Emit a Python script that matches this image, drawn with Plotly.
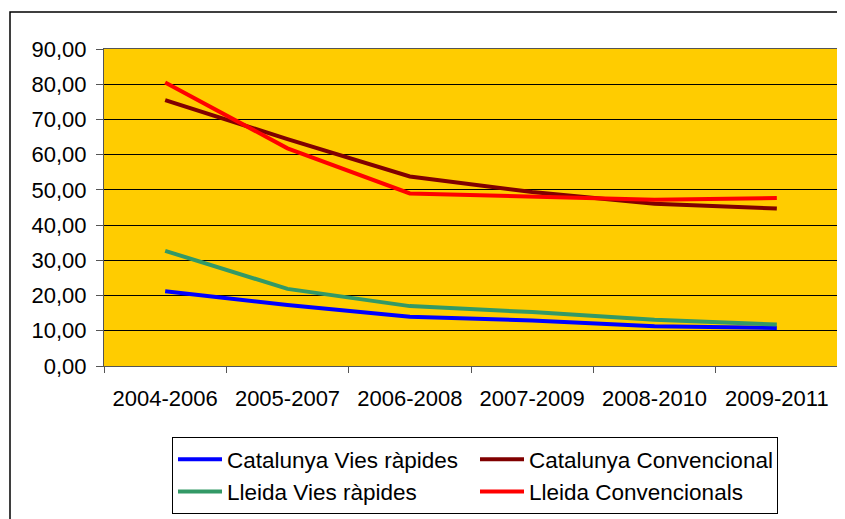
import plotly.graph_objects as go

categories = ["2004-2006", "2005-2007", "2006-2008", "2007-2009", "2008-2010", "2009-2011"]
cat_vies = [21.2, 17.3, 14.0, 12.9, 11.3, 10.8]
cat_conv = [75.5, 64.4, 53.8, 49.4, 46.1, 44.7]
lle_vies = [32.7, 21.9, 17.0, 15.3, 13.1, 11.8]
lle_conv = [80.5, 61.8, 49.0, 48.0, 47.2, 47.7]

series = [
    ("Catalunya Vies ràpides", cat_vies, "#0000FF"),
    ("Catalunya Convencional", cat_conv, "#800000"),
    ("Lleida Vies ràpides", lle_vies, "#339966"),
    ("Lleida Convencionals", lle_conv, "#FF0000"),
]

fig = go.Figure()
for name, vals, col in series:
    fig.add_trace(go.Scatter(x=categories, y=vals, name=name, mode="lines",
                             line=dict(color=col, width=4)))

OFF = 8  # page body margin
W, H = 845 - OFF, 519 - OFF
L, R, T, B = 104 - OFF, 7, 49 - OFF, 153
pw, ph = W - L - R, H - T - B

def px_x(x):
    return (x - OFF - L) / pw

def px_y(y):
    return (H - B - (y - OFF)) / ph

fig.update_layout(
    width=W, height=H,
    margin=dict(l=L, r=R, t=T, b=B, pad=0, autoexpand=False),
    paper_bgcolor="white",
    plot_bgcolor="#FFCC00",
    separators=",.",
    font=dict(family="Liberation Sans, Arial, sans-serif", size=22, color="black"),
    showlegend=True,
    legend=dict(orientation="h", x=px_x(172), y=px_y(437), xanchor="left", yanchor="top",
                bgcolor="white", bordercolor="black", borderwidth=1,
                entrywidth=243, entrywidthmode="pixels", itemwidth=44,
                font=dict(size=22.5), tracegroupgap=0),
    xaxis=dict(type="category", range=[-0.5, 5.5], showgrid=False, zeroline=False,
               showline=True, linecolor="#555555", linewidth=1, mirror=True,
               ticks="outside", ticklen=6, tickcolor="#555555", tickson="boundaries",
               ticklabelstandoff=13, fixedrange=True),
    yaxis=dict(range=[0, 90], dtick=10, tickformat=".2f", showgrid=True,
               gridcolor="black", gridwidth=1, zeroline=False,
               showline=True, linecolor="#555555", linewidth=1, mirror=True,
               ticks="outside", ticklen=7, tickcolor="#555555",
               ticklabelstandoff=5),
    shapes=[dict(type="rect", xref="paper", yref="paper",
                 x0=px_x(10), x1=px_x(900), y0=px_y(600), y1=px_y(12),
                 line=dict(color="black", width=1.5), fillcolor="rgba(0,0,0,0)", layer="below")],
)

fig.write_html("out.html")
